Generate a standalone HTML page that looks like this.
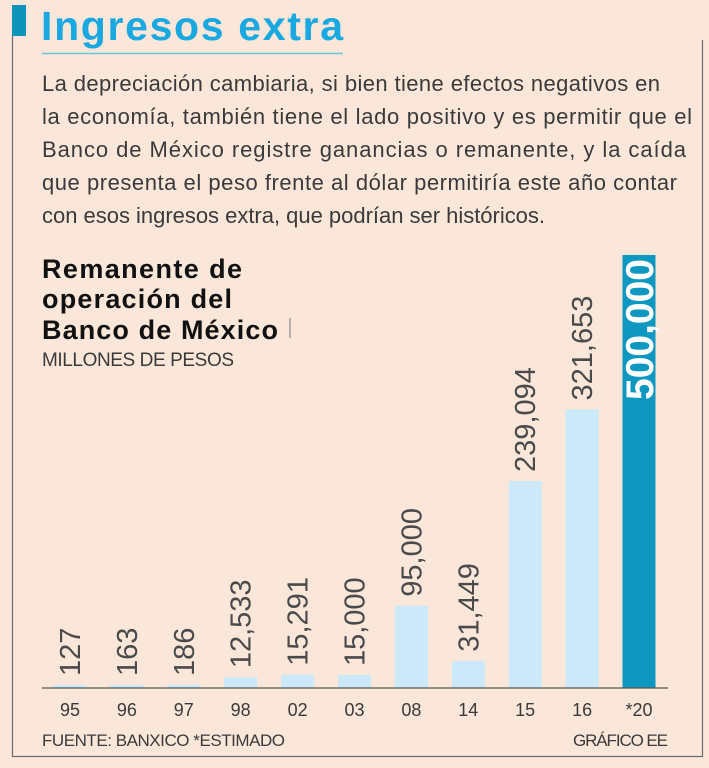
<!DOCTYPE html>
<html><head><meta charset="utf-8"><style>
body{margin:0;width:709px;height:768px;background:#fbe7d9;overflow:hidden;font-family:"Liberation Sans",sans-serif}
svg{position:absolute;left:0;top:0}
</style></head><body>
<svg width="709" height="768">
<rect x="12" y="5" width="14" height="31" fill="#0e93bb"/>
<path d="M12.5 36 V756.5 H702.5 V40" fill="none" stroke="#6b6b6b" stroke-width="1.2"/>
<text x="41" y="40" font-size="41" font-weight="bold" fill="#1aa8e0" textLength="302">Ingresos extra</text>
<line x1="42" y1="53.5" x2="343" y2="53.5" stroke="#6cc3de" stroke-width="1.5"/>
<g font-size="22" fill="#3a3a3a">
<text x="42" y="91" textLength="618">La depreciación cambiaria, si bien tiene efectos negativos en</text>
<text x="42" y="124" textLength="650">la economía, también tiene el lado positivo y es permitir que el</text>
<text x="42" y="157" textLength="644">Banco de México registre ganancias o remanente, y la caída</text>
<text x="42" y="190" textLength="635">que presenta el peso frente al dólar permitiría este año contar</text>
<text x="42" y="223" textLength="503">con esos ingresos extra, que podrían ser históricos.</text>
</g>
<g font-size="27" font-weight="bold" fill="#111">
<text x="42" y="278" textLength="200">Remanente de</text>
<text x="42" y="308" textLength="190">operación del</text>
<text x="42" y="339" textLength="236">Banco de México</text>
</g>
<line x1="290" y1="318" x2="290" y2="338" stroke="#777" stroke-width="1"/>
<text x="42" y="366" font-size="19" fill="#3a3a3a" textLength="192">MILLONES DE PESOS</text>
<g id="bars"></g>
<line x1="42" y1="688" x2="668" y2="688" stroke="#555" stroke-width="1.2"/>
<text x="42" y="746" font-size="17" fill="#3a3a3a" textLength="243">FUENTE: BANXICO *ESTIMADO</text>
<text x="668" y="746" font-size="17" fill="#3a3a3a" text-anchor="end" textLength="95">GRÁFICO EE</text>
</svg>
<script>
const categories=["95","96","97","98","02","03","08","14","15","16","*20"];
const values=[127,163,186,12533,15291,15000,95000,31449,239094,321653,500000];
const valueLabels=["127","163","186","12,533","15,291","15,000","95,000","31,449","239,094","321,653","500,000"];
const NS="http://www.w3.org/2000/svg";
const g=document.getElementById('bars');
const base=688,x0=70,step=56.9,bw=33;
const y=v=>base-v/500000*433;
const xc=i=>x0+i*step;
function el(t,a){const e=document.createElementNS(NS,t);for(const k in a)e.setAttribute(k,a[k]);g.appendChild(e);return e;}
categories.forEach((c,i)=>{
 const last=i===categories.length-1;
 const top=Math.min(y(values[i]),base-3);
 const r=el('rect',{x:xc(i)-bw/2,y:top,width:bw,height:base-top,fill:last?'#0e97c0':'#cbe9f8'});
 
 
 let t;
 if(last){
  t=el('text',{transform:`translate(${xc(i)+14},${top+4}) rotate(-90)`,'text-anchor':'end','font-size':'39','font-weight':'bold',fill:'#fff'});
 }else{
  t=el('text',{transform:`translate(${xc(i)+10},${top-9}) rotate(-90)`,'font-size':'29',fill:'#4a4a4a'});
 }
 t.textContent=valueLabels[i];
 
 
 const l=el('text',{x:xc(i),y:716,'text-anchor':'middle','font-size':'18',fill:'#3a3a3a'});
 l.textContent=c;
 
 
});
</script>
</body></html>
